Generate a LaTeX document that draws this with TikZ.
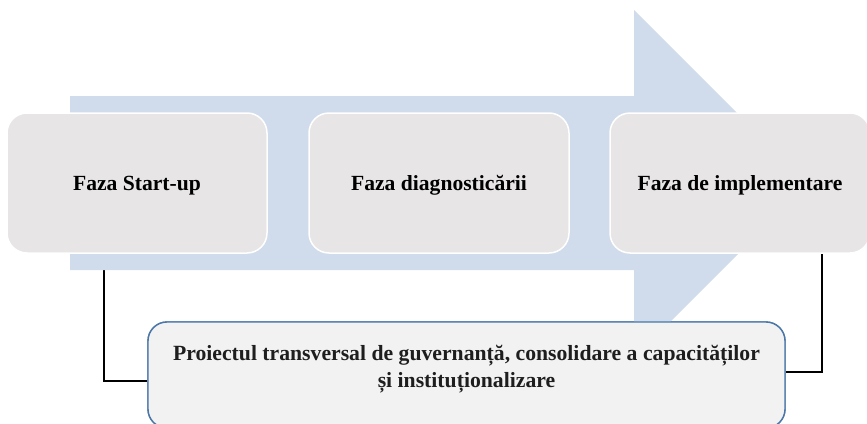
\documentclass[tikz,border=0pt]{standalone}
\usepackage{fontspec}
\setmainfont{Liberation Serif}
\begin{document}
\begin{tikzpicture}[x=1pt,y=-1pt,
  phase/.style={draw=white,line width=1.5pt,fill=boxgray,rounded corners=20pt,
    minimum width=260pt,minimum height=140pt,inner sep=0pt,
    text height=15pt,text depth=1pt,
    font=\fontsize{21.6}{28}\selectfont\bfseries,text=black},
  govbox/.style={draw=boxblue,line width=1.4pt,fill=govgray,rounded corners=19pt,
    minimum width=637pt,minimum height=106pt,inner sep=0pt},
  govtext/.style={font=\fontsize{21.7}{27.5}\selectfont\bfseries,text=textdark,align=center,inner sep=0pt},
  link/.style={draw=black,line width=2pt}]
\definecolor{arrowblue}{HTML}{D0DCEC}
\definecolor{boxgray}{HTML}{E7E5E6}
\definecolor{govgray}{HTML}{F2F2F2}
\definecolor{boxblue}{HTML}{4A76A8}
\definecolor{textdark}{HTML}{1E1E1E}
\useasboundingbox (0,0) rectangle (867,423);
\clip (0,0) rectangle (867,423);
% connectors (behind)
\coordinate (l1) at (104,381);
\coordinate (r1) at (822,372);
\node[govbox] (gov) at (466.5,375) {};
\node[phase] (p1) at (137,183) {};
\node[phase] (p3) at (740,183) {};
\draw[link] (p1.south -| l1) -- (l1) -- (l1 -| gov.west);
\draw[link] (p3.south -| r1) -- (r1) -- (r1 -| gov.east);
% big arrow
\fill[arrowblue] (70,96) -- (634,96) -- (634,10) -- (808,184) -- (634,358) -- (634,270) -- (70,270) -- cycle;
% phases
\node[phase] (a) at (137,183) {Faza Start-up};
\node[phase] (b) at (439,183) {Faza diagnosticării};
\node[phase] (c) at (740,183) {Faza de implementare};
% governance box
\node[govbox] (g) at (466.5,375) {};
\node[govtext] (gt) at (466.5,369) {Proiectul transversal de guvernanță, consolidare a capacităților\\și instituționalizare};
\end{tikzpicture}
\end{document}
